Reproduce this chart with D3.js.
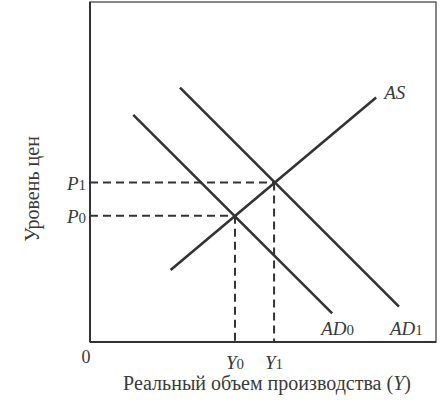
<!DOCTYPE html>
<html><head><meta charset="utf-8">
<script src="https://cdn.jsdelivr.net/npm/d3@7"></script>
<style>body{margin:0;background:#fff}svg{display:block}text{font-family:"Liberation Serif","DejaVu Serif",serif;fill:#3a3a3a}</style>
</head><body><svg id="c" width="440" height="405"></svg>
<script>
// Curves (data units: output Y, price level P)
const curveNames = ["AS", "AD0", "AD1"];
const curveX = [[2.33, 8.27], [1.25, 7.00], [2.60, 8.93]];
const curveY = [[2.12, 7.19], [6.68, 0.84], [7.48, 1.04]];
// Equilibria
const eqNames = ["0", "1"];
const eqY = [4.19, 5.32];   // output
const eqP = [3.71, 4.69];   // price
const xTitle = "Реальный объем производства (";
const yTitle = "Уровень цен";

const svg = d3.select("#c");
const x = d3.scaleLinear().domain([0, 10]).range([90, 436]);
const y = d3.scaleLinear().domain([0, 10]).range([342, 2]);

// frame
svg.append("rect").attr("x", x(0)).attr("y", y(10)).attr("width", x(10) - x(0)).attr("height", y(0) - y(10))
  .attr("fill", "none").attr("stroke", "#555").attr("stroke-width", 1.4);
// axes emphasised
svg.append("line").attr("x1", x(0)).attr("x2", x(10)).attr("y1", y(0)).attr("y2", y(0)).attr("stroke", "#333").attr("stroke-width", 2);
svg.append("line").attr("x1", x(0)).attr("x2", x(0)).attr("y1", y(0)).attr("y2", y(10)).attr("stroke", "#333").attr("stroke-width", 2);

// dashed guides
eqNames.forEach((n, i) => {
  svg.append("line").attr("x1", x(0)).attr("x2", x(eqY[i])).attr("y1", y(eqP[i])).attr("y2", y(eqP[i]))
    .attr("stroke", "#333").attr("stroke-width", 2).attr("stroke-dasharray", "8,5");
  svg.append("line").attr("x1", x(eqY[i])).attr("x2", x(eqY[i])).attr("y1", y(eqP[i])).attr("y2", y(0))
    .attr("stroke", "#333").attr("stroke-width", 2).attr("stroke-dasharray", "8,5");
});

// curves
const line = d3.line().x(d => x(d[0])).y(d => y(d[1]));
curveNames.forEach((n, i) => {
  const pts = curveX[i].map((v, j) => [v, curveY[i][j]]);
  svg.append("path").attr("d", line(pts)).attr("fill", "none").attr("stroke", "#333").attr("stroke-width", 2.6);
});

function subLabel(tx, ty, main, sub, anchor, italic) {
  const t = svg.append("text").attr("x", tx).attr("y", ty).attr("font-size", 19).attr("text-anchor", anchor);
  const a = t.append("tspan").text(main); if (italic) a.attr("font-style", "italic");
  if (sub) t.append("tspan").text(sub).attr("font-size", 15).attr("font-style", "normal");
  return t;
}
// curve labels
subLabel(x(curveX[0][1]) + 8, y(curveY[0][1]) + 1, "AS", "", "start", true);
subLabel(x(curveX[1][1]) - 11, y(curveY[1][1]) + 22, "AD", "0", "start", true);
subLabel(x(curveX[2][1]) - 9, y(curveY[2][1]) + 28, "AD", "1", "start", true);

// P and Y labels
eqNames.forEach((n, i) => {
  subLabel(x(0) - 4, y(eqP[i]) + 7, "P", n, "end", true);
  subLabel(x(eqY[i]), y(0) + 27, "Y", n, "middle", true);
});
svg.append("text").attr("x", x(0) - 4).attr("y", y(0) + 21).attr("font-size", 18).attr("text-anchor", "middle").text("0");

// titles
const xt = svg.append("text").attr("x", 267).attr("y", 390).attr("font-size", 20).attr("text-anchor", "middle");
xt.append("tspan").text(xTitle);
xt.append("tspan").text("Y").attr("font-style", "italic");
xt.append("tspan").text(")");
svg.append("text").attr("transform", "translate(39,189) rotate(-90)").attr("font-size", 20).attr("text-anchor", "middle").text(yTitle);
</script></body></html>
